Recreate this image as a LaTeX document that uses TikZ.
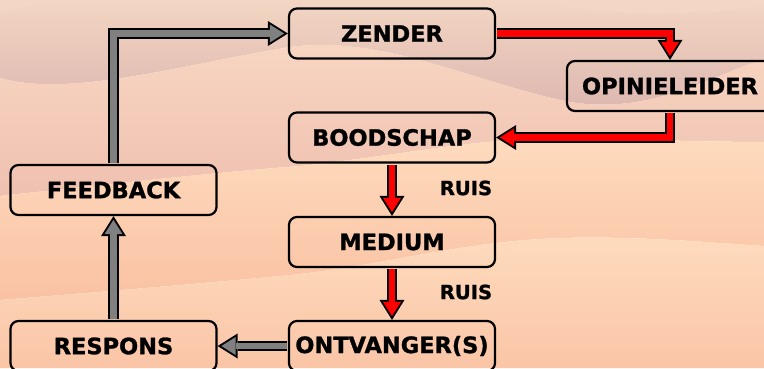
\documentclass[tikz,border=0pt]{standalone}
\usepackage{fontspec}
\setmainfont{DejaVu Sans}[BoldFeatures={FakeBold=1.2}]
\usetikzlibrary{arrows.meta}

\definecolor{crest}{HTML}{F3D6C3}
\definecolor{mauve}{HTML}{DBB4AE}
\definecolor{blush}{HTML}{F8D7C2}
\definecolor{rose}{HTML}{EFC0B0}
\definecolor{peach}{HTML}{FEDBBD}
\definecolor{salmon}{HTML}{FAC1A3}
\definecolor{flowgray}{HTML}{808080}

\tikzset{
  stage/.style={draw,line width=2.2pt,rounded corners=8pt,minimum width=206pt,
    minimum height=50pt,inner sep=0pt,font=\fontsize{22.5}{26}\selectfont\bfseries},
  noise/.style={inner sep=0pt,font=\fontsize{19.5}{23}\selectfont\bfseries},
  flow/.style={line width=6.4pt,line join=miter,shorten <=1.2pt,shorten >=3.8pt,
    -{Triangle[width=18pt,length=14.2pt,line width=0pt]},
    preaction={draw=black,line width=10.4pt,shorten >=0pt,
      -{Triangle[width=25pt,length=20pt,line width=0pt]}}},
  redflow/.style={flow,draw=red},
  grayflow/.style={flow,draw=flowgray}
}

\begin{document}
\begin{tikzpicture}[x=1pt,y=-1pt]
  \useasboundingbox (0,0) rectangle (764,368);
  \clip (0,0) rectangle (764,368);

  % wavy background bands
  \shade[top color=crest,bottom color=mauve]
    (0,0) -- (0,78) .. controls (70,98) and (180,65) .. (290,47)
    .. controls (380,35) and (470,80) .. (560,100)
    .. controls (650,120) and (720,70) .. (764,60) -- (764,0) -- cycle;
  \shade[top color=blush,bottom color=rose]
    (0,78) .. controls (70,98) and (180,65) .. (290,47)
    .. controls (380,35) and (470,80) .. (560,100)
    .. controls (650,120) and (720,70) .. (764,60)
    -- (764,142) .. controls (700,142) and (620,138) .. (520,140)
    .. controls (460,142) and (400,155) .. (300,166)
    .. controls (220,172) and (100,185) .. (0,196) -- cycle;
  \shade[top color=peach,bottom color=salmon]
    (0,196) .. controls (100,185) and (220,172) .. (300,166)
    .. controls (400,155) and (460,142) .. (520,140)
    .. controls (620,138) and (700,142) .. (764,142)
    -- (764,246) .. controls (700,242) and (640,236) .. (560,238)
    .. controls (460,242) and (400,262) .. (300,274)
    .. controls (220,282) and (100,292) .. (0,300) -- cycle;
  \shade[top color=peach,bottom color=salmon!85!peach]
    (0,300) .. controls (100,292) and (220,282) .. (300,274)
    .. controls (400,262) and (460,242) .. (560,238)
    .. controls (640,236) and (700,242) .. (764,246)
    -- (764,368) -- (0,368) -- cycle;
  % light crest along the top
  \fill[crest] (0,13) .. controls (25,6) and (50,2) .. (80,0) -- (0,0) -- cycle;
  \fill[crest] (540,0) .. controls (600,18) and (690,16) .. (764,6) -- (764,0) -- cycle;

  % stages
  \node[stage] (zender)    at (392,33.5) {ZENDER};
  \node[stage] (opinie)    at (670,86)   {OPINIELEIDER};
  \node[stage] (boodschap) at (392,137.5) {BOODSCHAP};
  \node[stage] (feedback)  at (113.5,190) {FEEDBACK};
  \node[stage] (medium)    at (392,242)  {MEDIUM};
  \node[stage] (ontvanger) at (392,346)  {ONTVANGER(S)};
  \node[stage] (respons)   at (113.5,346) {RESPONS};

  \node[noise] (ruisa) at (466,188) {RUIS};
  \node[noise] (ruisb) at (466,292) {RUIS};

  % message path
  \draw[redflow] (zender.east) -| (opinie.north);
  \draw[redflow] (opinie.south) |- (boodschap.east);
  \draw[redflow] (boodschap.south) -- (medium.north);
  \draw[redflow] (medium.south) -- (ontvanger.north);

  % feedback loop
  \draw[grayflow] (ontvanger.west) -- (respons.east);
  \draw[grayflow] (respons.north) -- (feedback.south);
  \draw[grayflow] (feedback.north) |- (zender.west);
\end{tikzpicture}
\end{document}
